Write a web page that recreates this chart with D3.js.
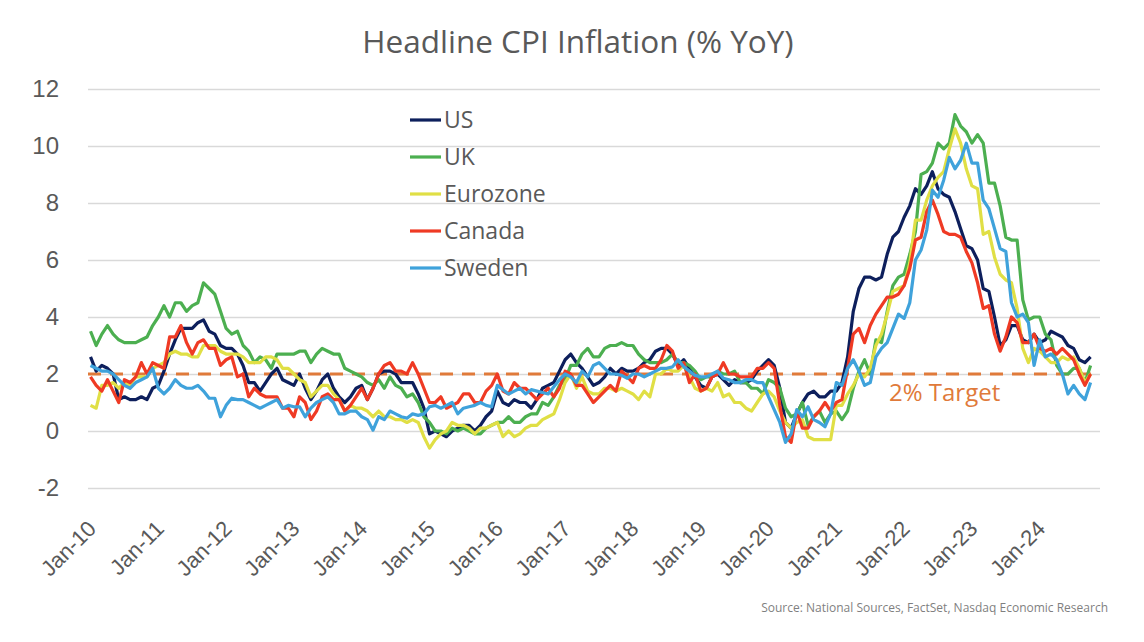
<!DOCTYPE html>
<html>
<head>
<meta charset="utf-8">
<script src="https://cdn.jsdelivr.net/npm/d3@7"></script>
<style>
  html, body { margin: 0; padding: 0; background: #ffffff; }
  svg { display: block; font-family: "Open Sans", "Noto Sans", sans-serif; }
</style>
</head>
<body>
<svg id="chart" width="1144" height="642"></svg>
<script>
// ---------------- DATA ----------------
const seriesNames = ["US", "UK", "Eurozone", "Canada", "Sweden"];
const seriesColors = ["#0d1f5c", "#4caf50", "#e0df45", "#ef3a24", "#3fa2db"];

const tickLabels = ["Jan-10","Jan-11","Jan-12","Jan-13","Jan-14","Jan-15","Jan-16","Jan-17",
                    "Jan-18","Jan-19","Jan-20","Jan-21","Jan-22","Jan-23","Jan-24"];
const yTicks = [-2, 0, 2, 4, 6, 8, 10, 12];
const targetValue = 2;

const US = [
  2.6,2.1,2.3,2.2,2.0,1.1,1.2,1.1,1.1,1.2,1.1,1.5,
  1.6,2.1,2.7,3.2,3.6,3.6,3.6,3.8,3.9,3.5,3.4,3.0,
  2.9,2.9,2.7,2.3,1.7,1.7,1.4,1.7,2.0,2.2,1.8,1.7,
  1.6,2.0,1.5,1.1,1.4,1.8,2.0,1.5,1.2,1.0,1.2,1.5,
  1.6,1.1,1.5,2.0,2.1,2.1,2.0,1.7,1.7,1.7,1.3,0.8,
  -0.1,0.0,-0.1,-0.2,0.0,0.1,0.2,0.2,0.0,0.2,0.5,0.7,
  1.4,1.0,0.9,1.1,1.0,1.0,0.8,1.1,1.5,1.6,1.7,2.1,
  2.5,2.7,2.4,2.2,1.9,1.6,1.7,1.9,2.2,2.0,2.2,2.1,
  2.1,2.2,2.4,2.5,2.8,2.9,2.9,2.7,2.3,2.5,2.2,1.9,
  1.6,1.5,1.9,2.0,1.8,1.6,1.8,1.7,1.7,1.8,2.1,2.3,
  2.5,2.3,1.5,0.3,0.1,0.6,1.0,1.3,1.4,1.2,1.2,1.4,
  1.4,1.7,2.6,4.2,5.0,5.4,5.4,5.3,5.4,6.2,6.8,7.0,
  7.5,7.9,8.5,8.3,8.6,9.1,8.5,8.3,8.2,7.7,7.1,6.5,
  6.4,6.0,5.0,4.9,4.0,3.0,3.2,3.7,3.7,3.2,3.1,3.4,
  3.1,3.2,3.5,3.4,3.3,3.0,2.9,2.5,2.4,2.6
];
const UK = [
  3.5,3.0,3.4,3.7,3.4,3.2,3.1,3.1,3.1,3.2,3.3,3.7,
  4.0,4.4,4.0,4.5,4.5,4.2,4.4,4.5,5.2,5.0,4.8,4.2,
  3.6,3.4,3.5,3.0,2.8,2.4,2.6,2.5,2.2,2.7,2.7,2.7,
  2.7,2.8,2.8,2.4,2.7,2.9,2.8,2.7,2.7,2.2,2.1,2.0,
  1.9,1.7,1.6,1.8,1.5,1.9,1.6,1.5,1.2,1.3,1.0,0.5,
  0.3,0.0,0.0,-0.1,0.1,0.0,0.1,0.0,-0.1,-0.1,0.1,0.2,
  0.3,0.3,0.5,0.3,0.3,0.5,0.6,0.6,1.0,0.9,1.2,1.6,
  1.8,2.3,2.3,2.7,2.9,2.6,2.6,2.9,3.0,3.0,3.1,3.0,
  3.0,2.7,2.5,2.4,2.4,2.4,2.5,2.7,2.4,2.4,2.3,2.1,
  1.8,1.9,1.9,2.1,2.0,2.0,2.1,1.7,1.7,1.5,1.5,1.3,
  1.8,1.7,1.5,0.8,0.5,0.6,1.0,0.2,0.5,0.7,0.3,0.6,
  0.7,0.4,0.7,1.5,2.1,2.5,2.0,3.2,3.1,4.2,5.1,5.4,
  5.5,6.2,7.0,9.0,9.1,9.4,10.1,9.9,10.1,11.1,10.7,10.5,
  10.1,10.4,10.1,8.7,8.7,7.9,6.8,6.7,6.7,4.6,3.9,4.0,
  4.0,3.4,3.2,2.3,2.0,2.0,2.2,2.2,1.7,2.3
];
const Eurozone = [
  0.9,0.8,1.6,1.6,1.7,1.5,1.7,1.6,1.9,1.9,1.9,2.2,
  2.3,2.4,2.7,2.8,2.7,2.7,2.6,2.6,3.0,3.0,3.0,2.8,
  2.7,2.7,2.7,2.6,2.4,2.4,2.4,2.6,2.6,2.5,2.2,2.2,
  2.0,1.8,1.7,1.2,1.4,1.6,1.6,1.3,1.1,0.7,0.9,0.8,
  0.8,0.7,0.5,0.7,0.5,0.5,0.4,0.4,0.3,0.4,0.3,-0.2,
  -0.6,-0.3,-0.1,0.0,0.3,0.2,0.2,0.1,-0.1,0.1,0.1,0.2,
  0.3,-0.2,0.0,-0.2,-0.1,0.1,0.2,0.2,0.4,0.5,0.6,1.1,
  1.7,2.0,1.5,1.9,1.4,1.3,1.3,1.5,1.5,1.4,1.5,1.4,
  1.3,1.1,1.4,1.2,2.0,2.0,2.2,2.1,2.1,2.3,1.9,1.5,
  1.4,1.5,1.4,1.7,1.2,1.3,1.0,1.0,0.8,0.7,1.0,1.3,
  1.4,1.2,0.7,0.3,0.1,0.3,0.4,-0.2,-0.3,-0.3,-0.3,-0.3,
  0.9,0.9,1.3,1.6,2.0,1.9,2.2,3.0,3.4,4.1,4.9,5.0,
  5.1,5.9,7.4,7.4,8.1,8.6,8.9,9.1,9.9,10.6,10.1,9.2,
  8.6,8.5,6.9,7.0,6.1,5.5,5.3,5.2,4.3,2.9,2.4,2.9,
  2.8,2.6,2.4,2.4,2.6,2.5,2.6,2.2,1.7,2.0
];
const Canada = [
  1.9,1.6,1.4,1.8,1.4,1.0,1.8,1.7,1.9,2.4,2.0,2.4,
  2.3,2.2,3.3,3.3,3.7,3.1,2.7,3.1,3.2,2.9,2.9,2.3,
  2.5,2.6,1.9,2.0,1.2,1.5,1.3,1.2,1.2,1.2,0.8,0.8,
  0.5,1.2,1.0,0.4,0.7,1.2,1.3,1.1,1.1,0.7,0.9,1.2,
  1.5,1.1,1.5,2.0,2.3,2.4,2.1,2.1,2.0,2.4,2.0,1.5,
  1.0,1.0,1.2,0.8,0.9,1.0,1.3,1.3,1.0,1.0,1.4,1.6,
  2.0,1.4,1.3,1.7,1.5,1.5,1.3,1.1,1.3,1.5,1.2,1.5,
  2.1,2.0,1.6,1.6,1.3,1.0,1.2,1.4,1.6,1.4,2.1,1.9,
  1.7,2.2,2.3,2.2,2.2,2.5,3.0,2.8,2.2,2.4,1.7,2.0,
  1.4,1.5,1.9,2.0,2.4,2.0,2.0,1.9,1.9,1.9,2.2,2.2,
  2.4,2.2,0.9,-0.2,-0.4,0.7,0.1,0.1,0.5,0.7,1.0,0.7,
  1.0,1.1,2.2,3.4,3.6,3.1,3.7,4.1,4.4,4.7,4.7,4.8,
  5.1,5.7,6.7,6.8,7.7,8.1,7.6,7.0,6.9,6.9,6.8,6.3,
  5.9,5.2,4.3,4.4,3.4,2.8,3.3,4.0,3.8,3.1,3.1,3.4,
  2.9,2.8,2.9,2.7,2.9,2.7,2.5,2.0,1.6,2.0
];
const Sweden = [
  2.3,2.2,2.1,2.1,2.0,1.8,1.6,1.5,1.7,1.8,1.9,2.2,
  1.5,1.3,1.5,1.8,1.6,1.5,1.5,1.6,1.4,1.15,1.15,0.5,
  0.9,1.15,1.1,1.1,1.0,0.9,0.8,0.9,1.0,1.1,0.8,0.9,
  0.85,0.85,0.5,0.8,1.0,1.1,1.2,1.0,0.6,0.6,0.7,0.7,
  0.5,0.4,0.03,0.5,0.4,0.7,0.6,0.5,0.45,0.6,0.55,0.6,
  0.85,0.9,0.8,0.9,1.0,0.6,0.8,0.85,0.9,1.0,0.9,0.85,
  1.6,1.45,1.3,1.4,1.5,1.3,1.45,1.4,1.35,1.3,1.55,1.8,
  2.0,1.9,1.7,2.1,1.9,2.3,2.4,2.2,2.0,2.0,1.95,1.85,
  2.0,2.0,1.9,2.0,2.1,2.2,2.2,2.25,2.5,2.25,2.1,1.95,
  1.9,1.9,2.0,2.1,1.85,1.8,1.7,1.7,1.8,1.8,1.7,1.7,
  1.2,0.75,0.3,-0.4,-0.1,0.75,0.5,0.85,0.4,0.3,0.15,0.6,
  1.7,1.6,2.2,2.5,2.1,1.6,1.7,2.6,2.9,3.1,3.6,4.1,
  3.95,4.5,6.0,6.35,7.05,8.45,8.2,8.8,9.6,9.2,9.5,10.1,
  9.4,9.4,8.1,7.8,7.1,6.4,6.3,4.5,4.0,4.1,3.8,2.3,
  3.2,2.6,2.7,2.5,2.0,1.3,1.6,1.3,1.1,1.7
];
const seriesValues = [US, UK, Eurozone, Canada, Sweden];

// monthly categories Jan-10 .. Oct-24
const monthNames = ["Jan","Feb","Mar","Apr","May","Jun","Jul","Aug","Sep","Oct","Nov","Dec"];
const categories = US.map((_, i) => monthNames[i % 12] + "-" + String(10 + Math.floor(i / 12)).padStart(2, "0"));

// ---------------- CHART ----------------
const svg = d3.select("#chart");
const plot = { left: 88, right: 1100, top: 89, bottom: 488 };

const x = d3.scaleBand().domain(categories).range([87.7, 1093.4]);
const xc = c => x(c) + x.bandwidth() / 2;
const y = d3.scaleLinear().domain([-2, 12]).range([plot.bottom, plot.top]);

const textColor = "#595959";

// gridlines + y labels
const yAxis = d3.axisLeft(y).tickValues(yTicks).tickSize(-(plot.right - plot.left)).tickPadding(29)
  .tickFormat(d => String(d));
const gy = svg.append("g").attr("transform", `translate(${plot.left},0)`).call(yAxis);
gy.select(".domain").remove();
gy.selectAll(".tick line").attr("stroke", "#d9d9d9").attr("stroke-width", 1.3);
gy.selectAll(".tick text").attr("fill", textColor).style("font-size", "24px");

// x axis labels
const xAxis = d3.axisBottom(x).tickValues(tickLabels).tickSize(0).tickPadding(0);
const gx = svg.append("g").attr("transform", `translate(0,${plot.bottom})`).call(xAxis);
gx.select(".domain").remove();
gx.selectAll(".tick text")
  .attr("fill", textColor)
  .style("font-size", "22px")
  .attr("text-anchor", "end")
  .attr("dy", null)
  .attr("transform", "translate(7,42) rotate(-45)")
  .attr("y", 0).attr("x", 0);

// target line
svg.append("line")
  .attr("x1", plot.left).attr("x2", plot.right)
  .attr("y1", y(targetValue)).attr("y2", y(targetValue))
  .attr("stroke", "#e07a3a").attr("stroke-width", 3.2)
  .attr("stroke-dasharray", "13,9");

// lines
const line = d3.line().x((d, i) => xc(categories[i])).y(d => y(d));
seriesNames.forEach((name, k) => {
  svg.append("path")
    .datum(seriesValues[k])
    .attr("fill", "none")
    .attr("stroke", seriesColors[k])
    .attr("stroke-width", 3.2)
    .attr("stroke-linejoin", "round")
    .attr("d", line);
});

// target label
svg.append("text")
  .attr("x", 889).attr("y", y(targetValue) + 27)
  .attr("fill", "#e07a3a").style("font-size", "24px")
  .text("2% Target");

// legend
const leg = svg.append("g");
seriesNames.forEach((name, k) => {
  const ly = 120 + k * 37;
  leg.append("line").attr("x1", 410).attr("x2", 441).attr("y1", ly).attr("y2", ly)
    .attr("stroke", seriesColors[k]).attr("stroke-width", 3.2);
  leg.append("text").attr("x", 444).attr("y", ly).attr("dy", "0.35em")
    .attr("fill", textColor).style("font-size", "23px").text(name);
});

// title
svg.append("text").attr("x", 578).attr("y", 53).attr("text-anchor", "middle")
  .attr("fill", textColor).style("font-size", "31.5px").text("Headline CPI Inflation (% YoY)");

// source
svg.append("text").attr("x", 1108).attr("y", 612).attr("text-anchor", "end")
  .attr("fill", "#7f7f7f").style("font-size", "12px")
  .text("Source: National Sources, FactSet, Nasdaq Economic Research");
</script>
</body>
</html>
